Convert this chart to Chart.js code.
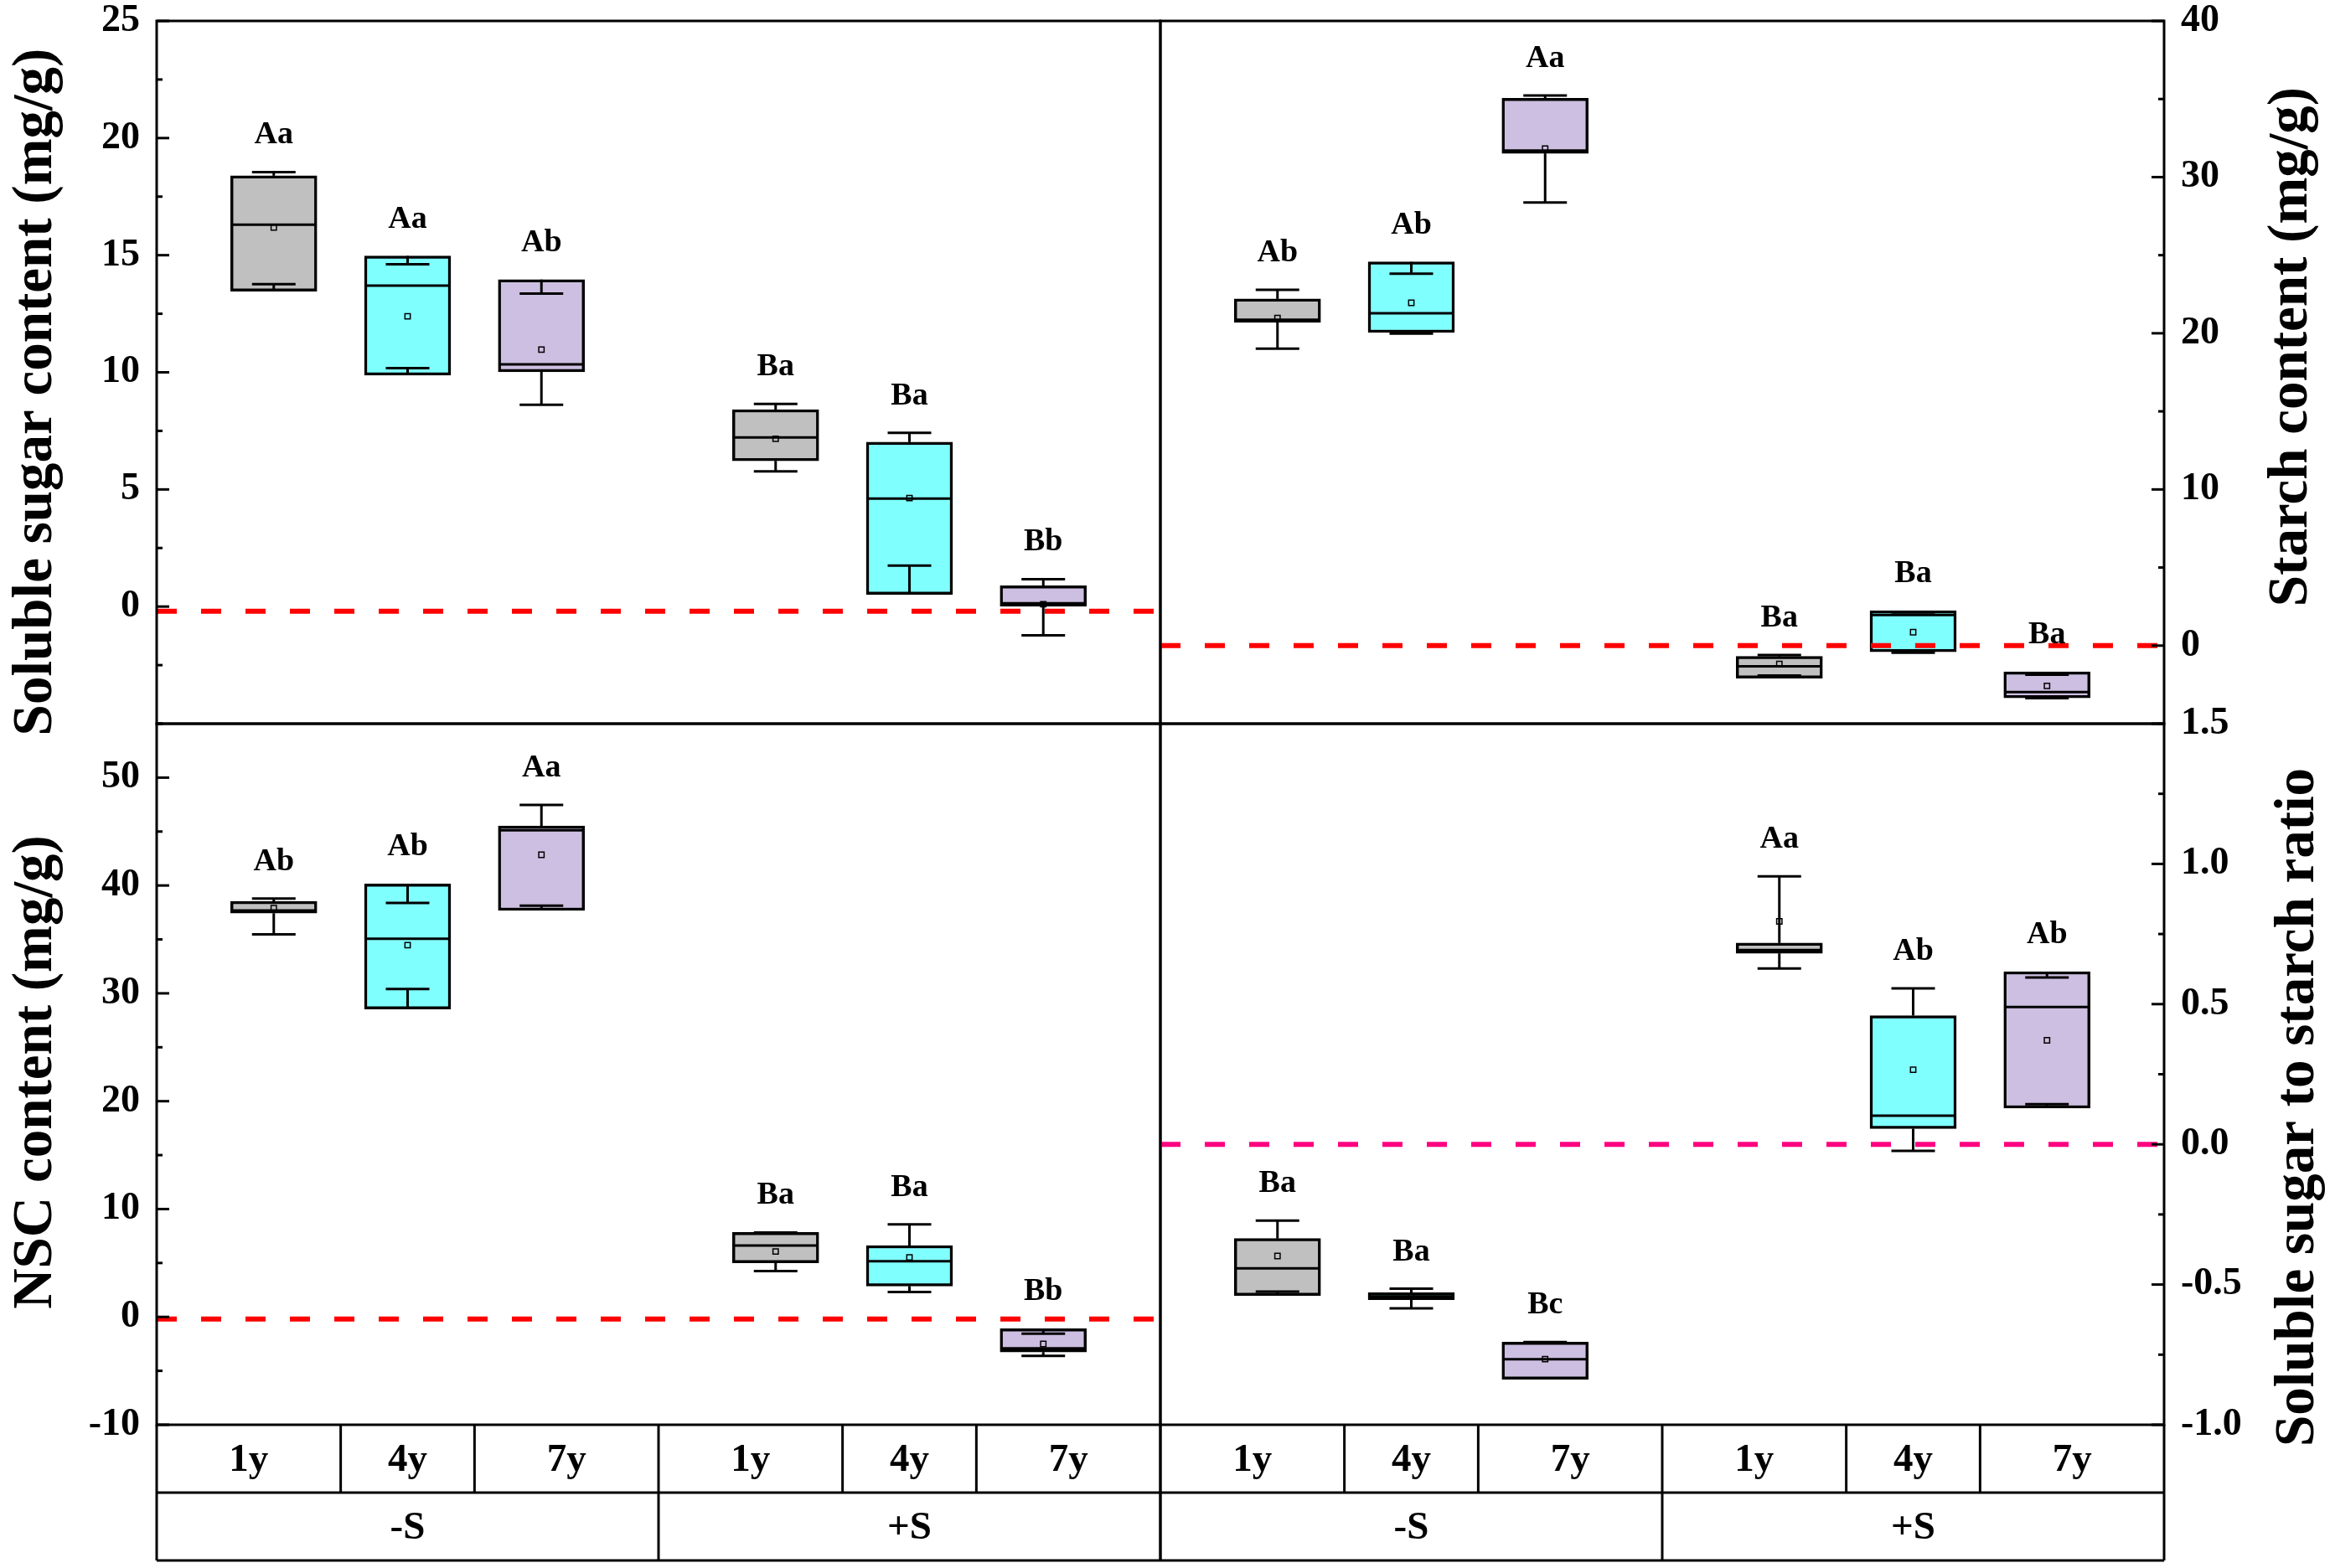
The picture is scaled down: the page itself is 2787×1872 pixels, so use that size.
<!DOCTYPE html>
<html>
<head>
<meta charset="utf-8">
<script src="https://cdn.jsdelivr.net/npm/chart.js@4.4.1/dist/chart.umd.min.js"></script>
<style>
    html, body { margin: 0; padding: 0; background: #fff; }
    #wrap { position: relative; width: 2787px; height: 1872px; overflow: hidden; background: #fff; }
    canvas { position: absolute; }
</style>
</head>
<body>
<div id="wrap">
    <canvas id="tl" width="1392" height="944" style="left:0px;top:-30px;width:1392px;height:944px"></canvas>
    <canvas id="tr" width="1409" height="944" style="left:1378px;top:-30px;width:1409px;height:944px"></canvas>
    <canvas id="bl" width="1392" height="1062" style="left:0px;top:810px;width:1392px;height:1062px"></canvas>
    <canvas id="br" width="1409" height="1062" style="left:1378px;top:810px;width:1409px;height:1062px"></canvas>
</div>
<script>
// ---- data ----
const xTickLabels = ['1y', '4y', '7y', '1y', '4y', '7y'];
const groupLabels = ['-S', '+S'];

// soluble sugar content (mg/g)
const sugarHigh   = [18.55, 14.61, 13.36, 8.65, 7.42, 1.17];
const sugarQ3     = [18.39, 14.97, 13.96, 8.41, 7.02, 0.89];
const sugarMedian = [16.30, 13.70, 10.34, 7.22, 4.61, 0.14];
const sugarMean   = [16.18, 12.39, 10.97, 7.16, 4.63, 0.10];
const sugarQ1     = [13.46, 9.88, 10.02, 6.22, 0.52, 0.02];
const sugarLow    = [13.76, 10.18, 8.61, 5.77, 1.75, -1.23];
const sugarLetters = ['Aa', 'Aa', 'Ab', 'Ba', 'Ba', 'Bb'];
const sugarTicks  = [0, 5, 10, 15, 20, 25];

// starch content (mg/g)
const starchHigh   = [22.78, 23.82, 35.23, -0.60, 2.12, -1.86];
const starchQ3     = [22.20, 24.57, 35.05, -0.69, 2.23, -1.68];
const starchMedian = [20.86, 21.28, 31.70, -1.32, 1.96, -2.97];
const starchMean   = [20.97, 21.95, 31.82, -1.18, 0.86, -2.58];
const starchQ1     = [20.70, 20.05, 31.52, -2.09, -0.39, -3.35];
const starchLow    = [19.02, 19.98, 28.38, -1.91, -0.46, -3.37];
const starchLetters = ['Ab', 'Ab', 'Aa', 'Ba', 'Ba', 'Ba'];
const starchTicks  = [0, 10, 20, 30, 40];

// NSC content (mg/g)
const nscHigh   = [38.79, 38.38, 47.47, 7.83, 8.58, -1.56];
const nscQ3     = [38.53, 40.14, 45.51, 7.83, 6.62, -1.10];
const nscMedian = [37.68, 35.07, 45.11, 6.62, 5.17, -2.91];
const nscMean   = [37.90, 34.47, 42.85, 6.07, 5.52, -2.51];
const nscQ1     = [37.43, 28.55, 37.68, 5.02, 2.86, -3.26];
const nscLow    = [35.47, 30.41, 38.13, 4.26, 2.31, -3.61];
const nscLetters = ['Ab', 'Ab', 'Aa', 'Ba', 'Ba', 'Bb'];
const nscTicks  = [-10, 0, 10, 20, 30, 40, 50];

// soluble sugar to starch ratio
const ratioHigh   = [-0.272, -0.515, -0.705, 0.956, 0.556, 0.595];
const ratioQ3     = [-0.336, -0.529, -0.705, 0.718, 0.459, 0.616];
const ratioMedian = [-0.442, -0.542, -0.766, 0.693, 0.102, 0.490];
const ratioMean   = [-0.398, -0.540, -0.766, 0.795, 0.266, 0.371];
const ratioQ1     = [-0.539, -0.554, -0.838, 0.681, 0.056, 0.129];
const ratioLow    = [-0.525, -0.585, -0.834, 0.627, -0.023, 0.143];
const ratioLetters = ['Ba', 'Ba', 'Bc', 'Aa', 'Ab', 'Ab'];
const ratioTicks  = [-1.0, -0.5, 0.0, 0.5, 1.0, 1.5];

// ---- layout / style ----
const slotX = [1, 2, 3, 4.75, 5.75, 6.75];   // where each box sits on the x scale
const X_MIN = 0.125, X_MAX = 7.625;
const boxColors = ['#C0C0C0', '#80FFFF', '#CDBFE1', '#C0C0C0', '#80FFFF', '#CDBFE1'];
const FONT = '"Liberation Serif", "Times New Roman", serif';
const BOX_W = 103, CAP_W = 52;

Chart.defaults.font.family = FONT;
Chart.defaults.color = '#000';

// cell edges of the category table under the bottom panels
function cellEdges() {
    const e = [X_MIN];
    for (let i = 0; i < slotX.length - 1; i++) e.push((slotX[i] + slotX[i + 1]) / 2);
    e.push(X_MAX);
    return e;
}
function cellCenters() {
    const e = cellEdges();
    return e.slice(0, -1).map((v, i) => (v + e[i + 1]) / 2);
}

function seg(ctx, x1, y1, x2, y2) {
    ctx.beginPath();
    ctx.moveTo(x1, y1);
    ctx.lineTo(x2, y2);
    ctx.stroke();
}

// whiskers, medians, frame, inner ticks, letters, axis title and the table
const boxDecor = {
    id: 'boxDecor',
    afterDatasetDraw(chart, args, o) {
        if (args.index !== 0) return;
        const { ctx, scales: { x, y } } = chart;
        ctx.save();
        ctx.strokeStyle = '#000';
        o.median.forEach((m, i) => {
            const px = x.getPixelForValue(slotX[i]);
            const yTop = y.getPixelForValue(o.q3[i]);
            const yBot = y.getPixelForValue(o.q1[i]);
            const yHi = y.getPixelForValue(o.high[i]);
            const yLo = y.getPixelForValue(o.low[i]);
            ctx.lineWidth = 3;
            seg(ctx, px, yTop, px, yHi);
            seg(ctx, px - CAP_W / 2, yHi, px + CAP_W / 2, yHi);
            seg(ctx, px, yBot, px, yLo);
            seg(ctx, px - CAP_W / 2, yLo, px + CAP_W / 2, yLo);
            const ym = y.getPixelForValue(m);
            seg(ctx, px - BOX_W / 2 + 2, ym, px + BOX_W / 2 - 2, ym);
        });
        ctx.restore();
    },
    afterDraw(chart, args, o) {
        const { ctx, chartArea: a, scales: { x, y } } = chart;
        ctx.save();
        ctx.strokeStyle = '#000';
        ctx.fillStyle = '#000';
        ctx.lineWidth = 3;
        ctx.strokeRect(a.left, a.top, a.right - a.left, a.bottom - a.top);

        // inward ticks on the value axis
        const edge = o.side === 'left' ? a.left : a.right;
        const dir = o.side === 'left' ? 1 : -1;
        o.ticks.forEach(v => {
            const py = y.getPixelForValue(v);
            seg(ctx, edge, py, edge + dir * 15, py);
        });
        for (let v = y.min; v <= y.max + 1e-9; v += o.minorStep) {
            if (o.ticks.some(t => Math.abs(t - v) < 1e-9)) continue;
            const py = y.getPixelForValue(v);
            seg(ctx, edge, py, edge + dir * 7, py);
        }

        // significance letters
        ctx.font = 'bold 38px ' + FONT;
        ctx.textAlign = 'center';
        ctx.textBaseline = 'alphabetic';
        o.letters.forEach((t, i) => {
            const top = Math.max(o.q3[i], o.high[i], o.mean[i]);
            ctx.fillText(t, x.getPixelForValue(slotX[i]), y.getPixelForValue(top) - 34);
        });

        // axis title
        ctx.save();
        ctx.translate(o.titleX, o.titleY);
        ctx.rotate(-Math.PI / 2);
        ctx.font = 'bold 67px ' + FONT;
        ctx.textAlign = 'center';
        ctx.textBaseline = 'middle';
        ctx.fillText(o.title, 0, 0);
        ctx.restore();

        // category table
        if (o.table) {
            const row = 81;
            const e = cellEdges().map(v => x.getPixelForValue(v));
            const gEdge = x.getPixelForValue((slotX[2] + slotX[3]) / 2);
            seg(ctx, a.left, a.bottom + row, a.right, a.bottom + row);
            seg(ctx, a.left, a.bottom + 2 * row, a.right, a.bottom + 2 * row);
            seg(ctx, a.left, a.bottom, a.left, a.bottom + 2 * row);
            seg(ctx, a.right, a.bottom, a.right, a.bottom + 2 * row);
            e.slice(1, -1).forEach(px => {
                const full = Math.abs(px - gEdge) < 0.5;
                seg(ctx, px, a.bottom, px, a.bottom + (full ? 2 * row : row));
            });
            ctx.font = 'bold 47px ' + FONT;
            ctx.textBaseline = 'middle';
            ctx.textAlign = 'center';
            const gy = a.bottom + row * 1.5 + 2;
            ctx.fillText(groupLabels[0], (a.left + gEdge) / 2, gy);
            ctx.fillText(groupLabels[1], (gEdge + a.right) / 2, gy);
        }
        ctx.restore();
    }
};

function makePanel(id, p) {
    const boxes = p.q1.map((lo, i) => ({ x: slotX[i], y: [lo, p.q3[i]] }));
    const means = p.mean.map((m, i) => ({ x: slotX[i], y: m }));
    return new Chart(document.getElementById(id), {
        type: 'bar',
        data: {
            datasets: [
                {
                    type: 'bar', data: boxes, order: 3,
                    backgroundColor: boxColors, borderColor: '#000',
                    borderWidth: 3.5, borderSkipped: false, barThickness: BOX_W, grouped: false
                },
                {
                    type: 'line', data: means, order: 2, showLine: false,
                    pointStyle: 'rect', pointRadius: 4.5, pointBorderWidth: 1.5,
                    pointBorderColor: '#000', pointBackgroundColor: 'rgba(0,0,0,0)'
                },
                {
                    type: 'line', order: 1,
                    data: [{ x: X_MIN, y: p.ref }, { x: X_MAX, y: p.ref }],
                    borderColor: p.refColor, borderWidth: 6, borderDash: [24, 29], pointRadius: 0
                }
            ]
        },
        options: {
            responsive: false,
            devicePixelRatio: 1,
            animation: false,
            layout: { padding: p.padding },
            plugins: {
                legend: { display: false },
                tooltip: { enabled: false },
                boxDecor: {
                    q1: p.q1, q3: p.q3, median: p.median, mean: p.mean, high: p.high, low: p.low,
                    letters: p.letters, ticks: p.ticks, minorStep: p.minorStep, side: p.side,
                    title: p.title, titleX: p.titleX, titleY: p.titleY, table: p.table
                }
            },
            scales: {
                x: {
                    type: 'linear', min: X_MIN, max: X_MAX, offset: false, display: p.table,
                    grid: { display: false, drawTicks: false, offset: false },
                    border: { display: false },
                    afterBuildTicks: s => { s.ticks = cellCenters().map(v => ({ value: v })); },
                    ticks: {
                        autoSkip: false, maxRotation: 0, padding: 15, color: '#000',
                        font: { size: 47, weight: 'bold' },
                        callback: (v, i) => xTickLabels[i]
                    },
                    afterFit: s => { if (p.table) s.height = 163; }
                },
                y: {
                    type: 'linear', position: p.side, min: p.min, max: p.max,
                    grid: { display: false, drawTicks: false },
                    border: { display: false },
                    afterBuildTicks: s => { s.ticks = p.ticks.map(v => ({ value: v })); },
                    ticks: {
                        padding: 20, color: '#000',
                        font: { size: 46, weight: 'bold' },
                        callback: p.fmt
                    },
                    afterFit: s => { s.width = p.axisWidth; }
                }
            }
        },
        plugins: [boxDecor]
    });
}

const plain = v => String(v);

// top canvases start 30px above the page, bottom ones at 810px
makePanel('tl', {
    q1: sugarQ1, q3: sugarQ3, median: sugarMedian, mean: sugarMean, high: sugarHigh, low: sugarLow,
    letters: sugarLetters, ticks: sugarTicks, min: -5, max: 25, minorStep: 2.5, fmt: plain,
    side: 'left', axisWidth: 187, padding: { top: 55, right: 7, bottom: 50, left: 0 },
    ref: -0.2, refColor: '#FF0000',
    title: 'Soluble sugar content (mg/g)', titleX: 44, titleY: 498, table: false
});

makePanel('tr', {
    q1: starchQ1, q3: starchQ3, median: starchMedian, mean: starchMean, high: starchHigh, low: starchLow,
    letters: starchLetters, ticks: starchTicks, min: -5, max: 40, minorStep: 5, fmt: plain,
    side: 'right', axisWidth: 204, padding: { top: 55, right: 0, bottom: 50, left: 7 },
    ref: 0, refColor: '#FF0000',
    title: 'Starch content (mg/g)', titleX: 1358, titleY: 444, table: false
});

makePanel('bl', {
    q1: nscQ1, q3: nscQ3, median: nscMedian, mean: nscMean, high: nscHigh, low: nscLow,
    letters: nscLetters, ticks: nscTicks, min: -10, max: 55, minorStep: 5, fmt: plain,
    side: 'left', axisWidth: 187, padding: { top: 54, right: 7, bottom: 8, left: 0 },
    ref: -0.2, refColor: '#FF0000',
    title: 'NSC content (mg/g)', titleX: 44, titleY: 470, table: true
});

makePanel('br', {
    q1: ratioQ1, q3: ratioQ3, median: ratioMedian, mean: ratioMean, high: ratioHigh, low: ratioLow,
    letters: ratioLetters, ticks: ratioTicks, min: -1, max: 1.5, minorStep: 0.25, fmt: v => v.toFixed(1),
    side: 'right', axisWidth: 204, padding: { top: 54, right: 0, bottom: 8, left: 7 },
    ref: 0, refColor: '#FF0080',
    title: 'Soluble sugar to starch ratio', titleX: 1366, titleY: 512, table: true
});
</script>
</body>
</html>
